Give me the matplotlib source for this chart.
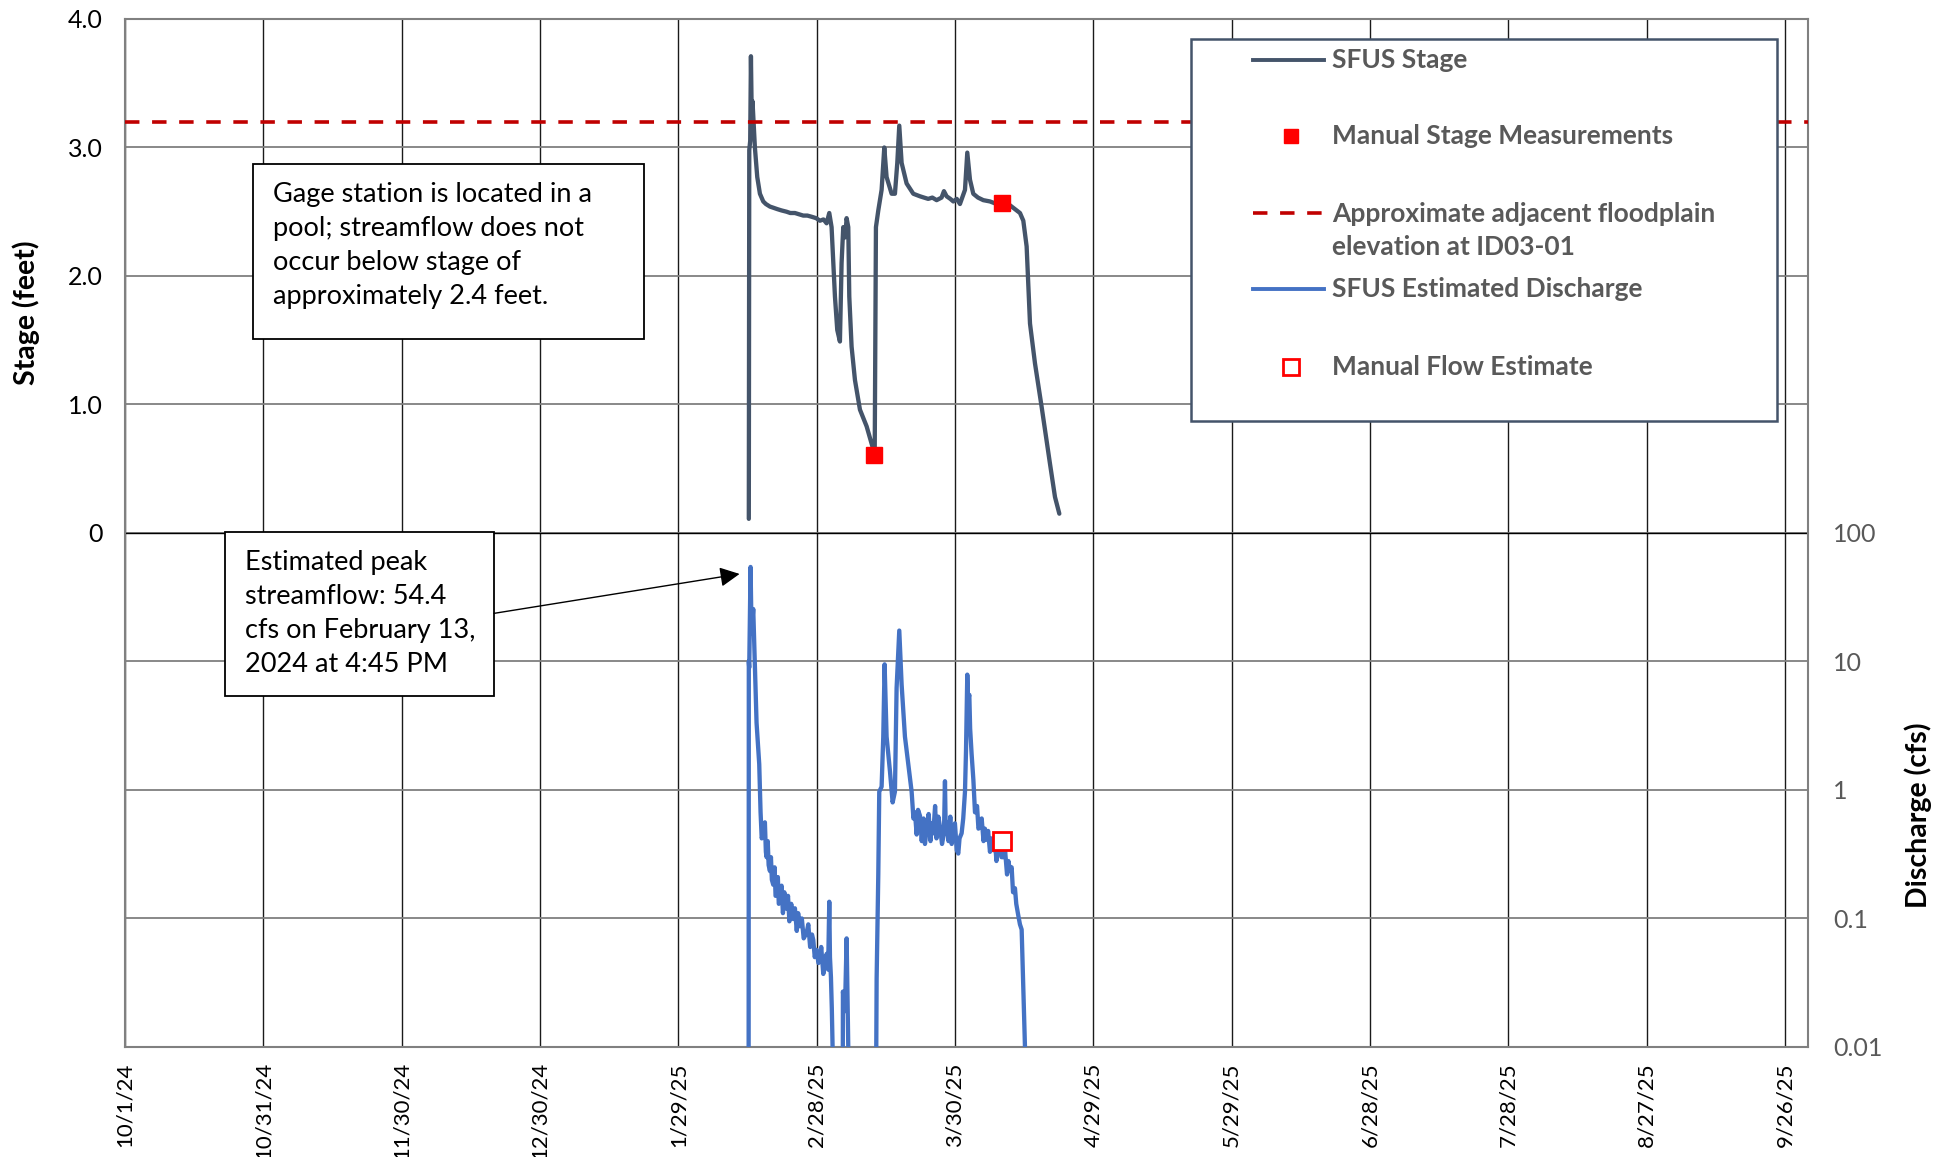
import matplotlib.pyplot as plt
from matplotlib.patches import Rectangle
from matplotlib.ticker import NullLocator

plt.rcParams['font.family'] = ['Lato', 'DejaVu Sans']

# x axis: days since 10/1/24
xtick_days = [0, 30, 60, 90, 120, 150, 180, 210, 240, 270, 300, 330, 360]
xtick_labels = ['10/1/24', '10/31/24', '11/30/24', '12/30/24', '1/29/25', '2/28/25',
                '3/30/25', '4/29/25', '5/29/25', '6/28/25', '7/28/25', '8/27/25', '9/26/25']

stage_day = [135.3, 135.4, 135.6, 135.76, 135.95, 136.1, 136.62, 137.13, 137.71, 138.43,
             139.0, 139.88, 140.7, 141.5, 142.4, 143.49, 144.3, 145.3, 146.2, 147.11,
             148.0, 149.0, 149.9, 150.72, 151.5, 152.17, 152.75, 153.25,
             153.98, 154.48, 155.06, 155.42, 155.78, 156.2, 156.51, 156.87, 157.09, 157.59,
             158.32, 159.4, 160.85, 162.29, 162.6, 162.87, 163.38, 164.1, 164.68, 165.18,
             166.27, 166.99, 167.5, 167.93, 168.44, 169.52, 170.97, 172.42, 173.3, 174.2,
             175.1, 176.03, 177.1, 177.62, 178.2, 179.0, 179.65, 180.4, 181.09, 182.18,
             182.68, 183.26, 183.98, 185.0, 186.15, 187.6, 189.05, 191.94,
             194.11, 194.83, 195.55, 196.28, 197.36, 198.81, 200.61, 201.7, 202.64]
stage_ft = [0.11, 2.98, 3.05, 3.71, 3.2, 3.36, 3.0, 2.77, 2.64, 2.58,
            2.56, 2.54, 2.53, 2.52, 2.51, 2.50, 2.49, 2.49, 2.48, 2.47,
            2.47, 2.46, 2.45, 2.43, 2.44, 2.41, 2.49, 2.38,
            1.84, 1.58, 1.49, 2.1, 2.38, 2.3, 2.45, 2.38, 1.84, 1.45,
            1.19, 0.96, 0.83, 0.65, 0.6, 2.38, 2.51, 2.67, 3.0, 2.77,
            2.64, 2.64, 2.88, 3.17, 2.88, 2.72, 2.64, 2.62, 2.61, 2.6,
            2.61, 2.59, 2.61, 2.66, 2.62, 2.6, 2.58, 2.6, 2.56, 2.67,
            2.96, 2.75, 2.64, 2.61, 2.59, 2.58, 2.56, 2.55,
            2.49, 2.43, 2.23, 1.63, 1.32, 0.98, 0.54, 0.28, 0.15]

manual_stage_day = [162.55, 190.3]
manual_stage_ft = [0.61, 2.57]

floodplain_ft = 3.2

discharge_day = [135.25, 135.3, 135.39, 135.68, 135.9, 136.26, 136.62, 136.98, 137.56, 137.85,
                 138.1, 138.43, 138.79, 139.0, 139.15, 139.4, 139.6, 139.88, 140.1, 140.3,
                 140.6, 140.9, 141.1, 141.32, 141.6, 141.8, 142.05, 142.4, 142.7, 143.0,
                 143.49, 143.8, 144.1, 144.5, 144.94, 145.3, 145.7, 146.0, 146.38, 146.8,
                 147.2, 147.83, 148.2, 148.6, 149.0, 149.28, 149.6, 150.0, 150.4, 150.72,
                 151.0, 151.45, 151.8, 152.17, 152.5, 152.75, 152.9, 153.11, 153.3, 153.47,
                 153.6, 155.64, 155.71, 156.15, 156.51, 156.87, 157.0, 162.8, 163.02, 163.38,
                 163.59, 164.1, 164.46, 164.75, 165.18, 165.91, 166.49, 166.99, 167.35, 167.93,
                 168.44, 169.16, 169.88, 170.61, 171.0, 171.33, 171.7, 172.0, 172.42, 172.8,
                 173.2, 173.5, 173.86, 174.3, 174.7, 175.0, 175.31, 175.7, 176.0, 176.4,
                 176.75, 177.2, 177.62, 177.84, 178.0, 178.2, 178.6, 179.0, 179.3, 179.65,
                 180.0, 180.4, 180.73, 181.0, 181.45, 181.8, 182.18, 182.4, 182.68, 182.85,
                 183.12, 183.3, 183.62, 184.0, 184.35, 184.8, 185.1, 185.43, 185.8, 186.2,
                 186.5, 186.88, 187.2, 187.6, 188.0, 188.32, 188.7, 189.0, 189.4, 189.77,
                 190.1, 190.49, 190.9, 191.3, 191.6, 191.94, 192.3, 192.6, 193.02, 193.3,
                 193.75, 194.1, 194.47, 194.83, 195.19, 195.3]
discharge_cfs = [0.001, 10, 8.95, 54.4, 16.6, 25.6, 9.0, 3.33, 1.59, 0.67,
                 0.42, 0.46, 0.56, 0.33, 0.30, 0.40, 0.26, 0.234, 0.30, 0.20,
                 0.183, 0.25, 0.15, 0.152, 0.21, 0.13, 0.135, 0.18, 0.11, 0.16,
                 0.119, 0.15, 0.095, 0.13, 0.099, 0.12, 0.08, 0.11, 0.087, 0.10,
                 0.07, 0.077, 0.09, 0.06, 0.075, 0.068, 0.05, 0.057, 0.045, 0.047,
                 0.06, 0.037, 0.045, 0.053, 0.04, 0.135, 0.05, 0.035, 0.02, 0.01,
                 0.001, 0.001, 0.027, 0.019, 0.07, 0.01, 0.001, 0.001, 0.034, 0.22,
                 0.97, 1.06, 2.6, 9.5, 2.6, 1.4, 0.8, 0.97, 6.2, 17.4,
                 6.6, 2.6, 1.59, 0.97, 0.60, 0.67, 0.45, 0.70, 0.63, 0.40,
                 0.60, 0.38, 0.49, 0.65, 0.40, 0.55, 0.46, 0.75, 0.42, 0.62,
                 0.52, 0.38, 0.46, 1.17, 0.50, 0.56, 0.40, 0.62, 0.38, 0.46,
                 0.55, 0.34, 0.32, 0.42, 0.46, 0.60, 0.97, 2.0, 7.9, 5.0,
                 5.5, 3.0, 1.9, 1.2, 0.67, 0.75, 0.50, 0.52, 0.60, 0.40,
                 0.50, 0.41, 0.48, 0.33, 0.42, 0.34, 0.40, 0.28, 0.36, 0.45,
                 0.30, 0.30, 0.33, 0.22, 0.28, 0.234, 0.25, 0.16, 0.172, 0.13,
                 0.105, 0.09, 0.082, 0.029, 0.01, 0.001]

manual_flow_day = [190.3]
manual_flow_cfs = [0.40]

peak_day = 133.3
peak_arrow_cfs = 48

discharge_ticks = [0.01, 0.1, 1, 10, 100]
discharge_tick_labels = ['0.01', '0.1', '1', '10', '100']

fig = plt.figure(figsize=(19.55, 11.57), dpi=100)
ax = fig.add_axes([0.0639, 0.0951, 0.8609, 0.8885])

ax.plot(stage_day, stage_ft, color='#44546A', lw=3.1, solid_joinstyle='round',
        solid_capstyle='round', zorder=3)
ax.plot(manual_stage_day, manual_stage_ft, 's', color='red', ms=11, zorder=4)
ax.axhline(floodplain_ft, color='#C00000', ls=(0, (4, 3.5)), lw=2.6, zorder=3)
ax.axhline(0, color='black', lw=1, zorder=1)

ax.set_xlim(0, 365)
ax.set_ylim(-4, 4)
ax.set_xticks(xtick_days, xtick_labels, rotation=90)
ax.set_yticks(range(-3, 5), ['', '', '', '0', '1.0', '2.0', '3.0', '4.0'])
ax.tick_params(axis='both', length=0, labelsize=18)
ax.tick_params(axis='x', labelsize=16, pad=11)
ax.tick_params(axis='y', pad=16)
ax.xaxis.grid(True, color='#1a1a1a', lw=1)
ax.yaxis.grid(True, color='#7f7f7f', lw=1.3)
ax.set_axisbelow(True)
for s in ax.spines.values():
    s.set_color('#808080')
    s.set_linewidth(1.5)
ax.set_ylabel('Stage (feet)', fontsize=20.5, fontweight='bold')
ax.yaxis.set_label_coords(-0.0505, 0.714)

ax2 = ax.twinx()
ax2.plot(discharge_day, discharge_cfs, color='#4472C4', lw=3.1, solid_joinstyle='round',
         solid_capstyle='round', zorder=3)
ax2.plot(manual_flow_day, manual_flow_cfs, 's', mfc='white', mec='red', mew=2, ms=13, zorder=4)
ax2.set_yscale('log')
ax2.set_ylim(0.01, 1e6)
ax2.set_yticks(discharge_ticks, discharge_tick_labels)
ax2.yaxis.set_minor_locator(NullLocator())
ax2.tick_params(axis='y', length=0, labelsize=18, labelcolor='#595959', pad=18)
ax2.set_ylabel('Discharge (cfs)', fontsize=20.5, fontweight='bold')
ax2.yaxis.set_label_coords(1.0575, 0.225)
for s in ax2.spines.values():
    s.set_visible(False)

# note boxes
ax2.add_patch(Rectangle((0.0763, 0.6885), 0.2319, 0.1709, transform=ax2.transAxes,
                        facecolor='white', edgecolor='black', lw=1.3, zorder=5))
ax2.text(0.0881, 0.7794, 'Gage station is located in a\npool; streamflow does not\n'
         'occur below stage of\napproximately 2.4 feet.', transform=ax2.transAxes,
         ha='left', va='center', fontsize=19.5, linespacing=1.45, zorder=6)

ax2.add_patch(Rectangle((0.0593, 0.3418), 0.16, 0.1588, transform=ax2.transAxes,
                        facecolor='white', edgecolor='black', lw=1.3, zorder=5))
ax2.text(0.0711, 0.4218, 'Estimated peak\nstreamflow: 54.4\ncfs on February 13,\n2024 at 4:45 PM',
         transform=ax2.transAxes, ha='left', va='center', fontsize=19.5, linespacing=1.45, zorder=6)
ax2.annotate('', xy=(peak_day, peak_arrow_cfs), xycoords='data',
             xytext=(0.2193, 0.4218), textcoords='axes fraction',
             arrowprops=dict(arrowstyle='-|>', color='black', lw=1, mutation_scale=30,
                             shrinkA=0, shrinkB=0), zorder=6)

# legend box, drawn by hand to match the spacing of the original
ax2.add_patch(Rectangle((0.6333, 0.6085), 0.3481, 0.3721, transform=ax2.transAxes,
                        facecolor='white', edgecolor='#44546A', lw=1.8, zorder=5))
lx0, lx1, lxm, ltx = 0.6704, 0.7126, 0.6926, 0.7170
leg_kw = dict(transform=ax2.transAxes, ha='left', va='center', fontsize=19,
              fontweight='bold', color='#595959', zorder=7)
ax2.plot([lx0, lx1], [0.96, 0.96], color='#44546A', lw=2.8, transform=ax2.transAxes, zorder=6)
ax2.text(ltx, 0.96, 'SFUS Stage', **leg_kw)
ax2.plot([lxm], [0.8861], 's', color='red', ms=10, transform=ax2.transAxes, zorder=6)
ax2.text(ltx, 0.8861, 'Manual Stage Measurements', **leg_kw)
ax2.plot([lx0, lx1], [0.8109, 0.8109], color='#C00000', ls=(0, (4, 3.5)), lw=2.6,
         transform=ax2.transAxes, zorder=6)
ax2.text(ltx, 0.7939, 'Approximate adjacent floodplain\nelevation at ID03-01',
         linespacing=1.45, **leg_kw)
ax2.plot([lx0, lx1], [0.737, 0.737], color='#4472C4', lw=2.8, transform=ax2.transAxes, zorder=6)
ax2.text(ltx, 0.737, 'SFUS Estimated Discharge', **leg_kw)
ax2.plot([lxm], [0.6618], 's', mfc='white', mec='red', mew=2, ms=11,
         transform=ax2.transAxes, zorder=6)
ax2.text(ltx, 0.6618, 'Manual Flow Estimate', **leg_kw)

ax2.set_ylim(0.01, 1e6)
ax2.set_xlim(0, 365)

fig.savefig('out.png', dpi=100)
